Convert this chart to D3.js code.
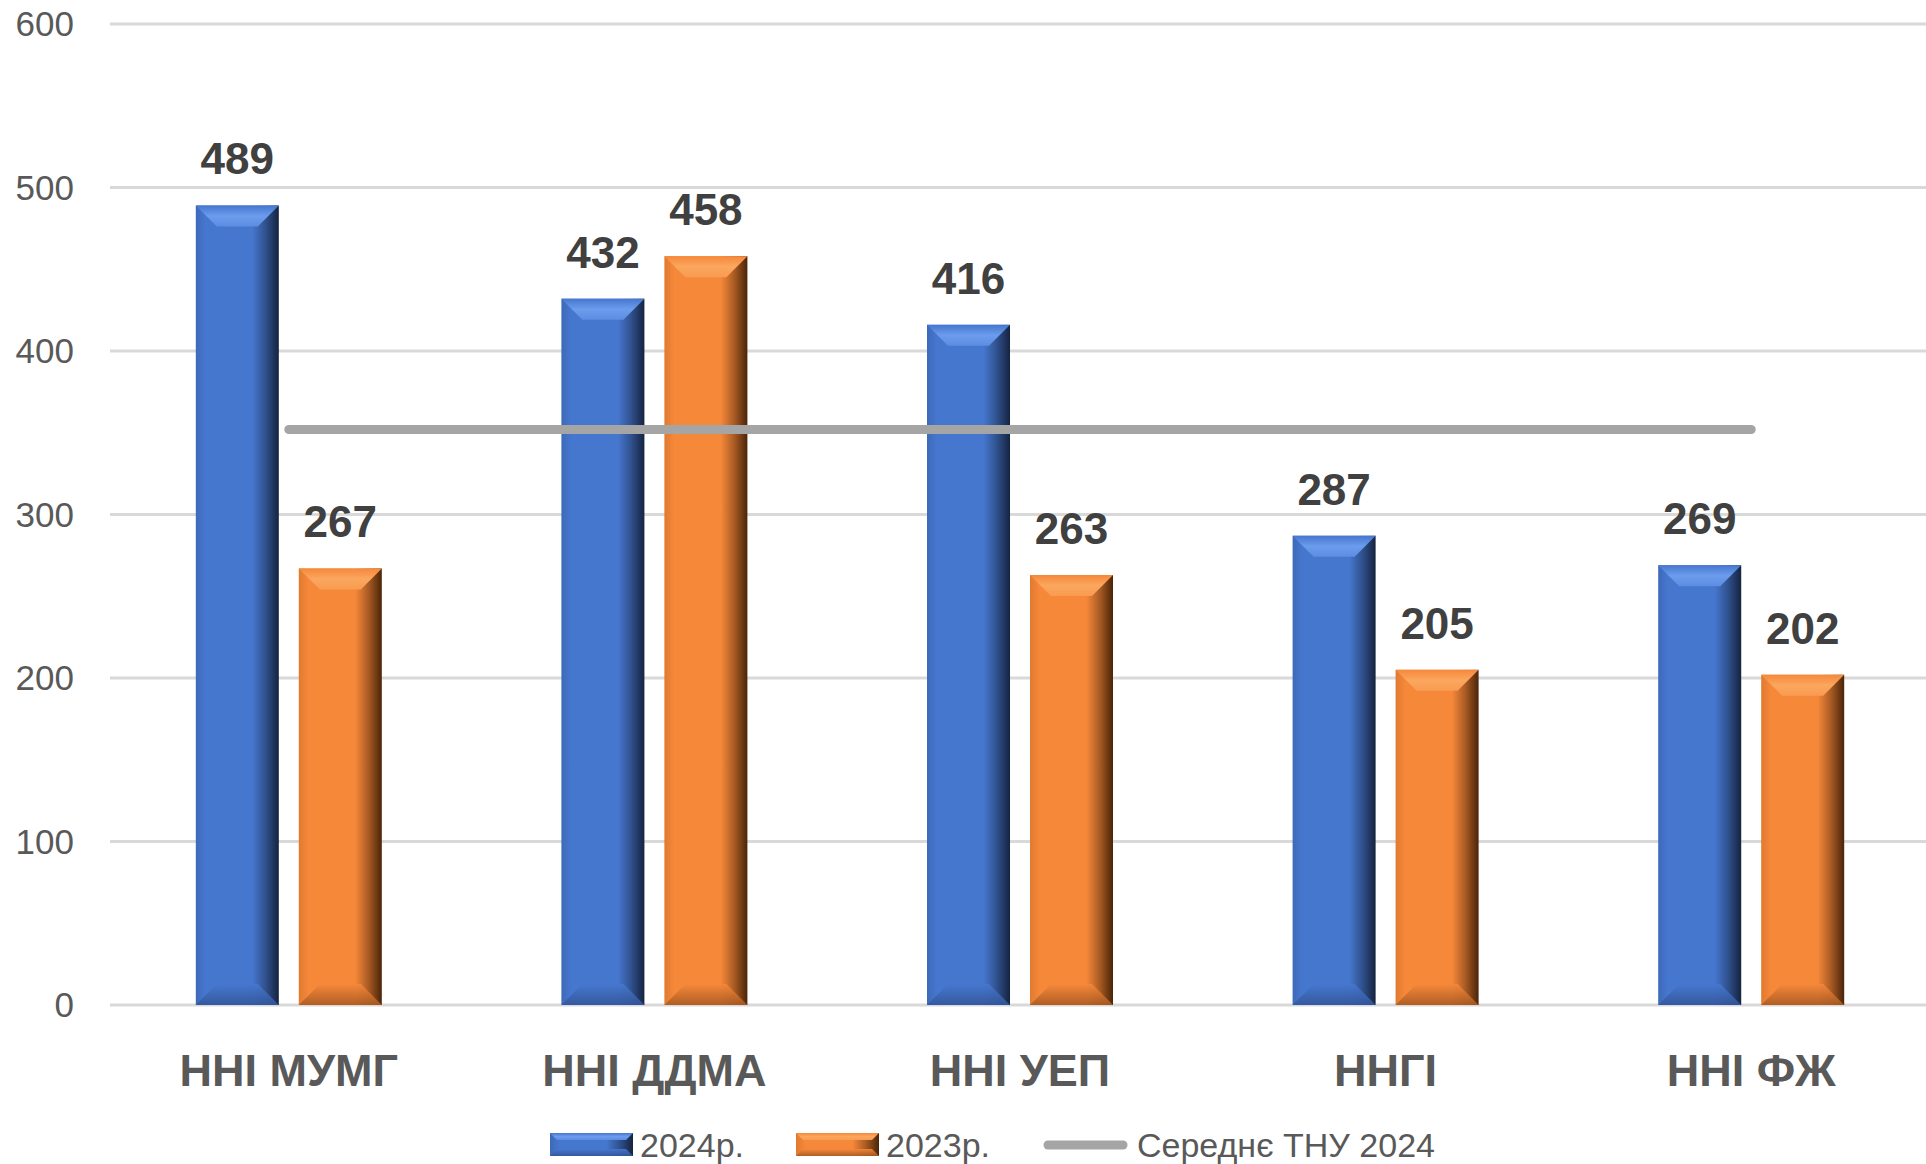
<!DOCTYPE html>
<html>
<head>
<meta charset="utf-8">
<script src="https://cdn.jsdelivr.net/npm/d3@7"></script>
<style>
  html, body { margin: 0; padding: 0; background: #fff; }
  svg { display: block; font-family: "Liberation Sans", Arial, sans-serif; }
</style>
</head>
<body>
<div id="chart"></div>
<script>
// Grouped bevelled bars 2024 vs 2023 with the university average line
const width = 1926, height = 1164;

const categories = ["ННІ МУМГ", "ННІ ДДМА", "ННІ УЕП", "ННГІ", "ННІ ФЖ"];
const series = ["2024р.", "2023р."];
const values2024 = [489, 432, 416, 287, 269];
const values2023 = [267, 458, 263, 205, 202];
const average2024 = [352, 352, 352, 352, 352];
const avgLabel = "Середнє ТНУ 2024";
const yTicks = [0, 100, 200, 300, 400, 500, 600];

const palette = {
  "2024р.": { main: "#4677cf", left: "#3d69b8", top: "#6b9ced", dark: "#15233f", bottom: "#33569a" },
  "2023р.": { main: "#f6883a", left: "#e07a30", top: "#fba75f", dark: "#4a2408", bottom: "#a85a22" }
};

const svg = d3.select("#chart").append("svg").attr("width", width).attr("height", height);
const defs = svg.append("defs");

const y = d3.scaleLinear().domain([0, 600]).range([1005, 24]);
const x0 = d3.scaleBand().domain(categories).range([106, 1934]);
const groupW = 186;
const x1 = d3.scaleBand().domain(series).range([0, groupW]).paddingInner(0.194);

// gradients per series
series.forEach((s, i) => {
  const c = palette[s];
  const gh = defs.append("linearGradient").attr("id", "side" + i).attr("x1", "0%").attr("x2", "100%");
  [[0, c.left], [0.12, c.main], [0.68, c.main], [0.84, d3.interpolateRgb(c.main, c.dark)(0.45)], [1, c.dark]]
    .forEach(([o, col]) => gh.append("stop").attr("offset", o).attr("stop-color", col));
  const gt = defs.append("linearGradient").attr("id", "top" + i).attr("x1", "0%").attr("y1", "0%").attr("x2", "0%").attr("y2", "100%");
  [[0, c.main], [0.5, c.top], [1, d3.interpolateRgb(c.top, c.main)(0.4)]]
    .forEach(([o, col]) => gt.append("stop").attr("offset", o).attr("stop-color", col));
  const gb = defs.append("linearGradient").attr("id", "bot" + i).attr("x1", "0%").attr("y1", "0%").attr("x2", "0%").attr("y2", "100%");
  [[0, c.main], [1, c.bottom]]
    .forEach(([o, col]) => gb.append("stop").attr("offset", o).attr("stop-color", col));
});

function bevelBar(g, x, yTop, w, h, i, b) {
  b = Math.min(b, h / 2, w / 2);
  g.append("rect").attr("x", x).attr("y", yTop).attr("width", w).attr("height", h).attr("fill", `url(#side${i})`);
  g.append("path")
    .attr("d", `M${x},${yTop}L${x + w},${yTop}L${x + w - b},${yTop + b}L${x + b},${yTop + b}Z`)
    .attr("fill", `url(#top${i})`);
  g.append("path")
    .attr("d", `M${x + b},${yTop + h - b}L${x + w - b},${yTop + h - b}L${x + w},${yTop + h}L${x},${yTop + h}Z`)
    .attr("fill", `url(#bot${i})`).attr("opacity", 0.9);
}

// gridlines + y labels
const grid = svg.append("g");
grid.selectAll("line").data(yTicks).join("line")
  .attr("x1", 110).attr("x2", width)
  .attr("y1", d => y(d)).attr("y2", d => y(d))
  .attr("stroke", "#d9d9d9").attr("stroke-width", 3);
grid.selectAll("text").data(yTicks).join("text")
  .attr("x", 74).attr("y", d => y(d) + 12)
  .attr("text-anchor", "end").attr("font-size", 35).attr("fill", "#595959")
  .text(d => d);

// bars
const rows = categories.map((c, k) => ({ cat: c, vals: [values2024[k], values2023[k]] }));
const off = (x0.bandwidth() - groupW) / 2;
const bars = svg.append("g");
rows.forEach(r => {
  r.vals.forEach((v, i) => {
    const bx = x0(r.cat) + off + x1(series[i]);
    const bw = x1.bandwidth();
    bevelBar(bars, bx, y(v), bw, y(0) - y(v), i, 21);
    bars.append("text")
      .attr("x", bx + bw / 2).attr("y", y(v) - 31)
      .attr("text-anchor", "middle").attr("font-size", 44).attr("font-weight", "bold")
      .attr("fill", "#404040").text(v);
  });
});

// average line
const line = d3.line().x((d, k) => x0(categories[k]) + x0.bandwidth() / 2).y(d => y(d));
svg.append("path").attr("d", line(average2024))
  .attr("fill", "none").attr("stroke", "#a5a5a5").attr("stroke-width", 9).attr("stroke-linecap", "round");

// category labels
svg.append("g").selectAll("text").data(categories).join("text")
  .attr("x", d => x0(d) + x0.bandwidth() / 2).attr("y", 1086)
  .attr("text-anchor", "middle").attr("font-size", 45).attr("font-weight", "bold")
  .attr("fill", "#595959").text(d => d);

// legend
const legend = svg.append("g");
const legendX = [550, 796];
series.forEach((s, i) => {
  bevelBar(legend, legendX[i], 1133, 83, 23, i, 7);
  legend.append("text").attr("x", legendX[i] + 90).attr("y", 1157)
    .attr("font-size", 34).attr("fill", "#595959").text(s);
});
legend.append("line").attr("x1", 1048).attr("x2", 1123).attr("y1", 1145).attr("y2", 1145)
  .attr("stroke", "#a5a5a5").attr("stroke-width", 9).attr("stroke-linecap", "round");
legend.append("text").attr("x", 1137).attr("y", 1157)
  .attr("font-size", 34).attr("fill", "#595959").text(avgLabel);
</script>
</body>
</html>
